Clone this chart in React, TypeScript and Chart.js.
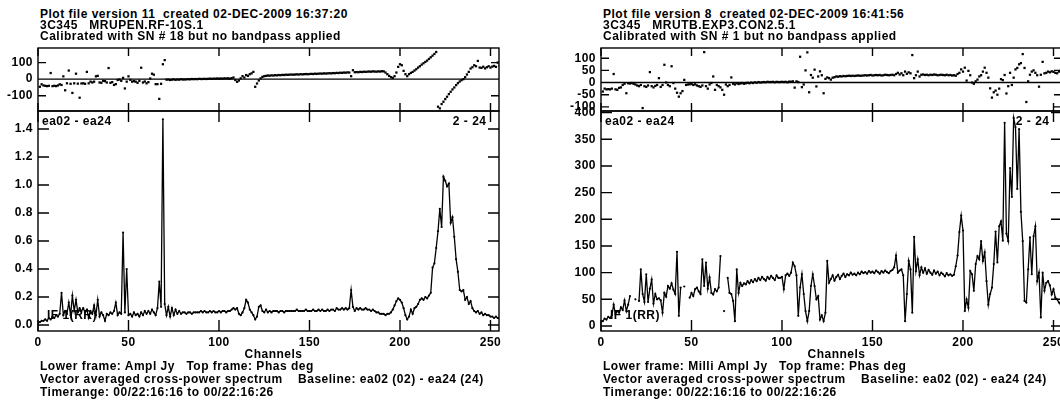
import React, { useEffect, useRef } from "react";
import { Chart, registerables } from "chart.js";

Chart.register(...registerables);

// ---------- data ----------
const CHANNELS = Array.from({ length: 255 }, (_, i) => i + 1);

const X_TICKS = [0, 50, 100, 150, 200, 250];
const PHASE_L_TICKS = [-100, 0, 100];
const PHASE_R_TICKS = [-100, -50, 0, 50, 100];
const AMP_L_TICKS = [0, 0.2, 0.4, 0.6, 0.8, 1.0, 1.2, 1.4];
const AMP_R_TICKS = [0, 50, 100, 150, 200, 250, 300, 350, 400];

// Left plot: amplitude (Jy)
const AMP_LEFT = [
  0.02, 0.03, 0.03, 0.04, 0.03, 0.05, 0.04, 0.06, 0.05, 0.07,
  0.06, 0.08, 0.23, 0.07, 0.10, 0.08, 0.16, 0.07, 0.21, 0.10,
  0.18, 0.09, 0.12, 0.10, 0.12, 0.09, 0.11, 0.05, 0.10, 0.08,
  0.14, 0.07, 0.18, 0.06, 0.09, 0.07, 0.03, 0.08, 0.07, 0.09,
  0.08, 0.10, 0.16, 0.07, 0.09, 0.08, 0.66, 0.09, 0.40, 0.07,
  0.08, 0.06, 0.09, 0.07, 0.08, 0.06, 0.09, 0.07, 0.10, 0.08,
  0.10, 0.08, 0.11, 0.09, 0.07, 0.12, 0.31, 0.13, 1.47, 0.15,
  0.07, 0.13, 0.06, 0.12, 0.07, 0.11, 0.08, 0.10, 0.08, 0.09,
  0.09, 0.08, 0.09, 0.09, 0.08, 0.09, 0.09, 0.09, 0.09, 0.10,
  0.09, 0.10, 0.09, 0.09, 0.10, 0.09, 0.10, 0.09, 0.09, 0.10,
  0.09, 0.10, 0.10, 0.09, 0.10, 0.10, 0.11, 0.12, 0.11, 0.12,
  0.08, 0.07, 0.09, 0.12, 0.18, 0.16, 0.11, 0.09, 0.07, 0.04,
  0.06, 0.13, 0.14, 0.10, 0.09, 0.11, 0.09, 0.10, 0.09, 0.10,
  0.10, 0.10, 0.09, 0.10, 0.10, 0.09, 0.10, 0.10, 0.10, 0.10,
  0.10, 0.10, 0.11, 0.10, 0.10, 0.10, 0.10, 0.11, 0.10, 0.10,
  0.10, 0.11, 0.10, 0.10, 0.11, 0.10, 0.11, 0.10, 0.10, 0.11,
  0.10, 0.11, 0.11, 0.10, 0.12, 0.11, 0.11, 0.12, 0.11, 0.12,
  0.11, 0.12, 0.25, 0.13, 0.10, 0.12, 0.11, 0.12, 0.11, 0.11,
  0.12, 0.11, 0.11, 0.10, 0.11, 0.10, 0.09, 0.09, 0.08, 0.08,
  0.08, 0.07, 0.08, 0.08, 0.09, 0.11, 0.14, 0.17, 0.19, 0.18,
  0.16, 0.12, 0.07, 0.04, 0.06, 0.11, 0.08, 0.12, 0.13, 0.15,
  0.18, 0.19, 0.18, 0.20, 0.19, 0.21, 0.23, 0.41, 0.44, 0.55,
  0.67, 0.83, 0.70, 1.06, 1.03, 0.99, 1.01, 0.73, 0.77, 0.63,
  0.47, 0.38, 0.25, 0.24, 0.25, 0.18, 0.20, 0.15, 0.17, 0.12,
  0.10, 0.09, 0.10, 0.08, 0.09, 0.07, 0.08, 0.07, 0.07, 0.06,
  0.06, 0.05, 0.06, 0.05, 0.05,
];

// Left plot: phase (deg)
const PHASE_LEFT = [
  -46, -31, -38, -40, -42, -40, 37, -42, -40, -42,
  -38, -31, -35, 17, -67, -25, 52, -28, -83, -25,
  33, -27, -112, -26, -25, -28, 44, -25, -15, -20,
  -15, 17, 20, -20, -22, -10, -12, -20, 67, -22,
  -18, -35, -30, -5, -2, -10, 8, -56, -15, 17,
  -4, -15, -12, -15, -22, -10, 69, -20, -14, -25,
  -18, 4, 33, 27, -30, -30, -119, -28, 90, 115,
  -3, -2, -5, -3, -1, -4, -2, -3, 0, -2,
  -2, -1, 0, -1, 1, 0, 1, 0, 2, 1,
  1, 2, 1, 2, 3, 2, 3, 3, 4, 3,
  4, 3, 5, 4, 5, 3, 6, 10, -5, -16,
  -8, 5, 18, 10, 25, 20, 30, 35, 44, -46,
  -26, -8, 5, 14, 18, 20, 22, 21, 23, 22,
  24, 23, 25, 24, 26, 25, 27, 26, 27, 28,
  27, 28, 29, 28, 30, 29, 30, 31, 30, 31,
  32, 31, 33, 32, 33, 34, 33, 35, 34, 35,
  36, 35, 37, 36, 38, 37, 39, 38, 40, 39,
  41, 40, 18, 54, 42, 43, 42, 44, 43, 45,
  44, 45, 46, 45, 47, 46, 45, 47, 46, 48,
  47, 40, 30, 20, 12, 8, 18, 40, 74, 90,
  84, 50, 30, 18, 30, 38, 44, 52, 60, 70,
  78, 88, 96, 104, 112, 122, 132, 142, 152, 164,
  -166, -176, -150, -136, -120, -106, -90, -76, -62, -50,
  -36, -24, -14, -6, 0, 12, 28, 44, 64, 72,
  84, 78, 110, 70, 68, 75, 65, 72, 78, 70,
  76, 80, 74, 100, 82,
];

// Right plot: amplitude (milli Jy); null = flagged channel
const AMP_RIGHT = [
  9, 14, 12, 17, 15, 20, 40, 22, 28, 25,
  35, 30, 48, 28, 40, 56, null, null, 50, null,
  47, 106, 60, 45, 97, 45, 70, 87, 42, 60,
  50, 52, 48, 25, 62, 55, 75, 70, 80, 68,
  60, 139, 19, 72, null, 74, null, null, 53, 62,
  56, 69, 72, 65, 60, 125, 75, 119, 70, 91,
  62, 59, 69, 65, 72, 131, null, 28, null, 90,
  62, 60, 47, 9, 106, 62, 81, 75, 80, 78,
  84, 80, 86, 82, 88, 84, 90, 86, 92, 88,
  85, 92, 88, 94, 90, 86, 95, 90, 90, 92,
  69, 95, 98, 94, 100, 119, 112, 95, 19, 72,
  97, 60, 28, 9, 28, 75, 97, 75, 50, 56,
  12, 20, 9, 25, 122, 81, 88, 95, 85, 92,
  96, 88, 94, 98, 92, 97, 95, 100, 96, 98,
  95, 100, 97, 102, 99, 101, 98, 103, 100, 102,
  99, 104, 101, 98, 103, 100, 104, 101, 99, 103,
  105, 110, 132, 100, 104, 106, 95, 9, 60, 122,
  106, 25, 167, 103, 125, 95, 110, 100, 108, 98,
  105, 100, 96, 104, 98, 102, 95, 100, 97, 93,
  99, 95, 97, 94, 96, 112, 132, 176, 207, 179,
  28, 50, 34, 103, 97, 66, 116, 131, 125, 159,
  122, 138, 84, 40, 60, 72, 116, 177, 119, 187,
  196, 160, 381, 173, 159, 296, 242, 390, 373, 257,
  369, 214, 159, 47, 44, 106, 166, 97, 168, 187,
  84, 100, 16, 100, 66, 81, 84, 76, 59, 69,
  53, 50, 44, 40, 35,
];

// Right plot: phase (deg)
const PHASE_RIGHT = [
  -37, -25, -28, -27, -28, -25, 35, -28, -30, -22,
  -20, -10, -5, -44, -3, -4, -2, -5, -8, -12,
  -15, -10, -105, -15, -18, -12, 43, -15, -20, -14,
  -10, 18, -18, -10, 73, 0, -10, -15, 67, -2,
  -25, -42, -58, -44, -35, 11, -10, -8, -7, -6,
  -10, -7, -12, -15, -18, -12, 125, -15, -25, -8,
  -2, 25, -30, -10, -15, -20, -30, -50, -8, -15,
  -10, 21, -5, -8, -3, -6, -4, -2, -5, -3,
  -1, -3, 0, -2, 1, -1, 2, 0, 1, 2,
  1, 3, 2, 2, 3, 1, 3, 2, 2, 3,
  2, 3, 1, 4, 3, 5, -21, 5, 2, 106,
  -19, -8, 50, 124, -40, 31, 20, 53, -16, 25,
  46, 30, -44, 15, 21, 18, 12, 20, 22, 25,
  24, 26, 25, 27, 26, 27, 28, 27, 28, 27,
  28, 29, 28, 28, 29, 30, 29, 30, 31, 29,
  30, 31, 30, 31, 29, 30, 32, 31, 30, 31,
  32, 30, 35, 40, 33, 38, 30, 45, 36, 42,
  38, 113, 18, 30, 45, 25, 32, 33, 31, 32,
  30, 32, 31, 33, 32, 30, 31, 32, 31, 30,
  32, 30, 31, 29, 30, 28, 35, 40, 54, 45,
  61, 8, 48, 30, 0, -5, 5, 12, 25, 30,
  45, 61, 40, 20, -24, -62, -40, -33, -50, -25,
  14, 10, 31, -45, -15, 40, -10, 20, 54, 60,
  75, 80, 117, 60, -80, 5, 32, 45, 50, 40,
  30, -17, 32, 85, 38, 40, 45, 42, 46, 44,
  40, 38, 45, 48, 42,
];

const LEFT_TITLE = [
  "Plot file version 11  created 02-DEC-2009 16:37:20",
  "3C345   MRUPEN.RF-10S.1",
  "Calibrated with SN # 18 but no bandpass applied",
];
const RIGHT_TITLE = [
  "Plot file version 8  created 02-DEC-2009 16:41:56",
  "3C345   MRUTB.EXP3.CON2.5.1",
  "Calibrated with SN # 1 but no bandpass applied",
];
const LEFT_FOOT = [
  "Lower frame: Ampl Jy   Top frame: Phas deg",
  "Vector averaged cross-power spectrum    Baseline: ea02 (02) - ea24 (24)",
  "Timerange: 00/22:16:16 to 00/22:16:26",
];
const RIGHT_FOOT = [
  "Lower frame: Milli Ampl Jy   Top frame: Phas deg",
  "Vector averaged cross-power spectrum    Baseline: ea02 (02) - ea24 (24)",
  "Timerange: 00/22:16:16 to 00/22:16:26",
];
const X_TITLE = "Channels";
const BASELINE_LABEL = "ea02 - ea24";
const PAIR_LABEL = "2 - 24";
const IF_LABEL = "IF 1(RR)";

// ---------- layout ----------
const FONT = '"Liberation Sans", Arial, Helvetica, sans-serif';
const FONT_SIZE = 12;
const LETTER = 0.5;
const X_MIN = 0;
const X_MAX = 254.7;
const FRAME_TOP = 48;
const FRAME_MID = 111;
const FRAME_BOTTOM = 331;
const FRAME_W = 461;
const LEFT_X = 38;
const RIGHT_X = 601;
const YW = 38;
const PT = 8;
const PR = 4;
const XH = 22;

type PlotProps = {
  left: number;
  top: number;
  height: number;
  yMin: number;
  yMax: number;
  yTicks: number[];
  fmt: (v: number) => string;
  values: (number | null)[];
  kind: "phase" | "amp";
  tickLen: number;
};

const zeroPad = (s: any) => {
  s.paddingTop = 0;
  s.paddingBottom = 0;
  s.paddingLeft = 0;
  s.paddingRight = 0;
};

function Plot(p: PlotProps) {
  const ref = useRef<HTMLCanvasElement | null>(null);
  const showX = p.kind === "amp";
  const cw = FRAME_W + YW + PR;
  const ch = p.height + PT + (showX ? XH : 2);

  useEffect(() => {
    const canvas = ref.current;
    if (!canvas) return;
    const tickFont = { family: FONT, size: FONT_SIZE, weight: "bold" as const };
    const frame = {
      id: "aipsFrame",
      beforeDraw(chart: any) {
        try {
          chart.ctx.letterSpacing = LETTER + "px";
        } catch (e) {
          /* ignore */
        }
      },
      afterDatasetsDraw(chart: any) {
        const { ctx, chartArea: a, scales } = chart;
        const xs = scales.x;
        const ys = scales.y;
        ctx.save();
        ctx.strokeStyle = "#000";
        ctx.lineWidth = 1.4;
        ctx.strokeRect(a.left, a.top, a.right - a.left, a.bottom - a.top);
        ctx.beginPath();
        p.yTicks.forEach((v) => {
          const py = ys.getPixelForValue(v);
          ctx.moveTo(a.left, py);
          ctx.lineTo(a.left + p.tickLen, py);
          ctx.moveTo(a.right, py);
          ctx.lineTo(a.right - p.tickLen, py);
        });
        X_TICKS.forEach((v) => {
          const px = xs.getPixelForValue(v);
          ctx.moveTo(px, a.top);
          ctx.lineTo(px, a.top + p.tickLen);
          ctx.moveTo(px, a.bottom);
          ctx.lineTo(px, a.bottom - p.tickLen);
        });
        if (p.kind === "phase") {
          const pz = ys.getPixelForValue(0);
          ctx.moveTo(a.left, pz);
          ctx.lineTo(a.right, pz);
        }
        ctx.stroke();
        ctx.restore();
      },
    };

    const dataset =
      p.kind === "amp"
        ? {
            data: p.values,
            borderColor: "#000",
            borderWidth: 1.3,
            pointRadius: 1.1,
            pointBackgroundColor: "#000",
            pointBorderWidth: 0,
            spanGaps: false,
            tension: 0,
          }
        : {
            data: p.values,
            showLine: false,
            pointStyle: "rect",
            pointRadius: 1.6,
            pointBackgroundColor: "#000",
            pointBorderWidth: 0,
          };

    const chart = new Chart(canvas, {
      type: "line",
      data: { labels: CHANNELS, datasets: [dataset as any] },
      options: {
        responsive: false,
        maintainAspectRatio: false,
        animation: false,
        events: [],
        layout: {
          autoPadding: false,
          padding: { left: 0, top: PT, right: PR, bottom: showX ? 0 : 2 },
        },
        plugins: { legend: { display: false }, tooltip: { enabled: false } },
        scales: {
          x: {
            type: "linear",
            min: X_MIN,
            max: X_MAX,
            display: showX,
            grid: { display: false, drawTicks: false },
            border: { display: false },
            afterBuildTicks: (s: any) => {
              s.ticks = X_TICKS.map((v) => ({ value: v }));
            },
            afterFit: (s: any) => {
              s.height = showX ? XH : 0;
              zeroPad(s);
            },
            ticks: {
              font: tickFont,
              color: "#000",
              padding: 4,
              maxRotation: 0,
              autoSkip: false,
              callback: (v: any) => String(v),
            },
          },
          y: {
            type: "linear",
            min: p.yMin,
            max: p.yMax,
            grid: { display: false, drawTicks: false },
            border: { display: false },
            afterBuildTicks: (s: any) => {
              s.ticks = p.yTicks.map((v) => ({ value: v }));
            },
            afterFit: (s: any) => {
              s.width = YW;
              zeroPad(s);
            },
            ticks: {
              font: tickFont,
              color: "#000",
              padding: 5,
              autoSkip: false,
              callback: (v: any) => p.fmt(Number(v)),
            },
          },
        },
      } as any,
      plugins: [frame],
    });
    return () => chart.destroy();
  }, []);

  return (
    <canvas
      ref={ref}
      width={cw}
      height={ch}
      style={{
        position: "absolute",
        left: p.left - YW,
        top: p.top - PT,
        width: cw,
        height: ch,
      }}
    />
  );
}

function Txt({
  x,
  y,
  text,
  align = "left",
}: {
  x: number;
  y: number;
  text: string;
  align?: "left" | "center" | "right";
}) {
  const tx = align === "center" ? "translateX(-50%)" : align === "right" ? "translateX(-100%)" : "none";
  return (
    <div
      style={{
        position: "absolute",
        left: x,
        top: y - 10.2,
        fontFamily: FONT,
        fontWeight: "bold",
        fontSize: FONT_SIZE,
        letterSpacing: LETTER,
        lineHeight: FONT_SIZE + "px",
        whiteSpace: "pre",
        color: "#000",
        transform: tx,
        zIndex: 2,
      }}
    >
      {text}
    </div>
  );
}

function Panel({
  x,
  title,
  foot,
  phase,
  amp,
  phaseRange,
  ampRange,
  phaseTicks,
  ampTicks,
  ampFmt,
}: {
  x: number;
  title: string[];
  foot: string[];
  phase: (number | null)[];
  amp: (number | null)[];
  phaseRange: [number, number];
  ampRange: [number, number];
  phaseTicks: number[];
  ampTicks: number[];
  ampFmt: (v: number) => string;
}) {
  const TITLE_BASE = [18, 29, 40];
  const FOOT_BASE = [370.5, 383.5, 396.5];
  return (
    <>
      {title.map((t, i) => (
        <Txt key={"t" + i} x={x + 2} y={TITLE_BASE[i]} text={t} />
      ))}
      <Plot
        left={x}
        top={FRAME_TOP}
        height={FRAME_MID - FRAME_TOP}
        yMin={phaseRange[0]}
        yMax={phaseRange[1]}
        yTicks={phaseTicks}
        fmt={(v) => String(v)}
        values={phase}
        kind="phase"
        tickLen={8}
      />
      <Plot
        left={x}
        top={FRAME_MID}
        height={FRAME_BOTTOM - FRAME_MID}
        yMin={ampRange[0]}
        yMax={ampRange[1]}
        yTicks={ampTicks}
        fmt={ampFmt}
        values={amp}
        kind="amp"
        tickLen={11}
      />
      <Txt x={x + 4} y={125.5} text={BASELINE_LABEL} />
      <Txt x={x + FRAME_W - 12.5} y={125.5} text={PAIR_LABEL} align="right" />
      <Txt x={x + 9} y={319.5} text={IF_LABEL} />
      <Txt x={x + FRAME_W / 2 + 5} y={358} text={X_TITLE} align="center" />
      {foot.map((t, i) => (
        <Txt key={"f" + i} x={x + 2} y={FOOT_BASE[i]} text={t} />
      ))}
    </>
  );
}

export default function App() {
  return (
    <div
      style={{
        position: "absolute",
        left: 0,
        top: 0,
        width: 1060,
        height: 402,
        overflow: "hidden",
        background: "#fff",
      }}
    >
      <Panel
        x={LEFT_X}
        title={LEFT_TITLE}
        foot={LEFT_FOOT}
        phase={PHASE_LEFT}
        amp={AMP_LEFT}
        phaseRange={[-192, 188]}
        ampRange={[-0.043, 1.529]}
        phaseTicks={PHASE_L_TICKS}
        ampTicks={AMP_L_TICKS}
        ampFmt={(v) => v.toFixed(1)}
      />
      <Panel
        x={RIGHT_X}
        title={RIGHT_TITLE}
        foot={RIGHT_FOOT}
        phase={PHASE_RIGHT}
        amp={AMP_RIGHT}
        phaseRange={[-117, 142]}
        ampRange={[-9.4, 403]}
        phaseTicks={PHASE_R_TICKS}
        ampTicks={AMP_R_TICKS}
        ampFmt={(v) => String(Math.round(v))}
      />
    </div>
  );
}
